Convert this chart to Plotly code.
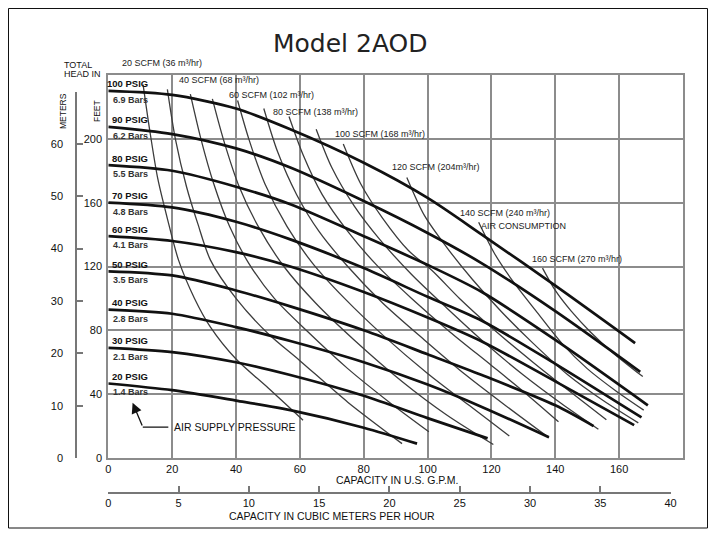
import plotly.graph_objects as go

# ---------------- data ----------------
gpm_ticks = [0, 20, 40, 60, 80, 100, 120, 140, 160]
feet_ticks = [0, 40, 80, 120, 160, 200]
meter_ticks = [0, 10, 20, 30, 40, 50, 60, 70]
meter_ticktext = ["0", "10", "20", "30", "40", "50", "60", ""]
m3h_ticks = [0, 5, 10, 15, 20, 25, 30, 35, 40]

psig_names = ["100 PSIG", "90 PSIG", "80 PSIG", "70 PSIG", "60 PSIG",
              "50 PSIG", "40 PSIG", "30 PSIG", "20 PSIG"]
bar_names = ["6.9 Bars", "6.2 Bars", "5.5 Bars", "4.8 Bars", "4.1 Bars",
             "3.5 Bars", "2.8 Bars", "2.1 Bars", "1.4 Bars"]

# air-supply pressure curves (capacity GPM, total head ft)
p100_gpm = [0, 20, 40, 57, 80, 100, 117, 140, 165]
p100_ft = [230, 227.5, 219, 206, 185, 163, 140, 108, 72]
p90_gpm = [0, 20, 40, 57, 80, 100, 117, 140, 166.6]
p90_ft = [207.5, 203, 194, 182, 161, 141, 122, 92, 54]
p80_gpm = [0, 20, 40, 57, 80, 100, 117, 140, 169]
p80_ft = [183.5, 180, 170, 159, 139, 121, 104, 74, 33]
p70_gpm = [0, 20, 40, 57, 80, 100, 117, 140, 167]
p70_ft = [160, 157, 148, 137, 119, 101, 86, 59, 25.4]
p60_gpm = [0, 20, 40, 57, 80, 100, 117, 140, 164.7]
p60_ft = [139, 136, 129, 120, 104, 88, 73, 48, 20.6]
p50_gpm = [0, 20, 40, 57, 80, 100, 117, 140, 152]
p50_ft = [117, 114.4, 105, 95, 80, 65, 52, 33, 20]
p40_gpm = [0, 20, 40, 57, 80, 100, 117, 138]
p40_ft = [93, 90.4, 82, 73.3, 60, 46, 32, 13]
p30_gpm = [0, 20, 40, 57, 80, 100, 118.8]
p30_ft = [69, 66.4, 60, 52, 39, 25, 12.3]
p20_gpm = [0, 20, 40, 57, 80, 96.7]
p20_ft = [46.7, 42.5, 36, 30, 19, 9]

# air consumption curves (capacity GPM, total head ft)
s20_gpm = [10.9, 13, 15.5, 18.5, 22, 27, 32, 40, 50, 61]
s20_ft = [234, 205, 175, 150, 124, 100, 82, 62, 44, 23.7]
s30_gpm = [18.5, 21, 24.5, 28, 32, 40, 50, 60, 75, 92]
s30_ft = [231, 200, 170, 147, 124, 100, 78, 61, 35, 9]
s40_gpm = [25.7, 29, 33, 38, 44, 52, 62, 75, 88, 100.4]
s40_ft = [228, 200, 172, 145, 122, 100, 80, 56, 35, 16.5]
s50_gpm = [32.6, 36, 41, 47, 55, 65, 77, 92, 106, 120.6]
s50_ft = [225, 200, 170, 145, 120, 97, 74, 48, 27, 8.5]
s60_gpm = [40.5, 44, 49, 56, 64, 74, 86, 100, 113, 125.6]
s60_ft = [224, 200, 172, 145, 122, 100, 77, 53, 33, 13.75]
s70_gpm = [48.7, 53, 59, 66, 75, 86, 99, 112, 125, 138]
s70_ft = [219, 192, 165, 142, 120, 97, 74, 52, 32, 12.7]
s80_gpm = [56.6, 61, 67, 75, 84, 95, 107, 120, 131, 141]
s80_ft = [214, 190, 165, 142, 121, 100, 79, 58, 40, 22.7]
s90_gpm = [65.1, 70, 77, 85, 95, 106, 118, 130, 142, 153.5]
s90_ft = [206, 182, 158, 137, 115, 94, 72, 52, 34, 18]
s100_gpm = [73.6, 79, 86, 94, 101.4, 110, 121, 133, 145, 156]
s100_ft = [196.7, 172, 150, 130, 117.5, 100, 80, 60, 41, 24]
s120_gpm = [93.5, 99, 106, 114, 123, 133, 144, 155, 166]
s120_ft = [175.8, 152, 132, 112, 92, 72, 52, 36, 22]
s140_gpm = [116, 121, 127, 134, 142, 150, 159, 167.7]
s140_ft = [147.7, 128, 110, 92, 72, 56, 42, 30]
s160_gpm = [136, 140, 145, 151, 158, 167.4]
s160_ft = [119, 105, 92, 79, 66, 51]

pressure_curves = [(p100_gpm, p100_ft), (p90_gpm, p90_ft), (p80_gpm, p80_ft),
                   (p70_gpm, p70_ft), (p60_gpm, p60_ft), (p50_gpm, p50_ft),
                   (p40_gpm, p40_ft), (p30_gpm, p30_ft), (p20_gpm, p20_ft)]
air_curves = [(s20_gpm, s20_ft), (s30_gpm, s30_ft), (s40_gpm, s40_ft),
              (s50_gpm, s50_ft), (s60_gpm, s60_ft), (s70_gpm, s70_ft),
              (s80_gpm, s80_ft), (s90_gpm, s90_ft), (s100_gpm, s100_ft),
              (s120_gpm, s120_ft), (s140_gpm, s140_ft), (s160_gpm, s160_ft)]

# labels for air-consumption curves: (text, gpm, ft)
scfm_labels = [
    ("40 SCFM (68 m³/hr)", 21.5, 236.8),
    ("60 SCFM (102 m³/hr)", 37.2, 227.4),
    ("80 SCFM (138 m³/hr)", 51.0, 216.6),
    ("100 SCFM (168 m³/hr)", 70.4, 203.0),
    ("120 SCFM (204m³/hr)", 88.2, 182.5),
    ("140 SCFM (240 m³/hr)", 109.6, 153.7),
    ("AIR CONSUMPTION", 116.0, 145.5),
    ("160 SCFM (270 m³/hr)", 132.0, 124.5),
]

GPM_PER_M3H = 4.40287
FT_PER_M = 3.28084

# ---------------- layout geometry ----------------
W, H = 715, 536
ML, MR, MT, MB = 50, 32, 75, 36
PW, PH = W - ML - MR, H - MT - MB
X0_PX, Y0_PX = 108.3, 458.0      # pixel of GPM 0 / feet 0
X_MAX, Y_MAX = 180.0, 240.0


def fx(px):
    return (px - ML) / PW


def fy(py):
    return (H - MB - py) / PH


x_dom0 = fx(X0_PX)
y_dom0 = fy(Y0_PX)
px_per_gpm = (W - MR - X0_PX) / X_MAX
px_per_ft = (Y0_PX - MT) / Y_MAX
m_top_px = Y0_PX - 70 * FT_PER_M * px_per_ft
x2_end_px = X0_PX + 40 * GPM_PER_M3H * px_per_gpm

FONT = "Liberation Sans, Arial, sans-serif"
GRID = "#8c8c8c"

fig = go.Figure()

for gx, gy in air_curves:
    fig.add_trace(go.Scatter(x=gx, y=gy, mode="lines",
                             line=dict(color="#3c3c3c", width=1.3, shape="spline", smoothing=0.8),
                             hoverinfo="skip", showlegend=False))
for gx, gy in pressure_curves:
    fig.add_trace(go.Scatter(x=gx, y=gy, mode="lines",
                             line=dict(color="#111111", width=2.7, shape="spline", smoothing=0.8),
                             hoverinfo="skip", showlegend=False))

# invisible trace so that the metric (secondary) axes are drawn
fig.add_trace(go.Scatter(x=[0], y=[0], xaxis="x2", yaxis="y2", mode="markers",
                         marker=dict(opacity=0, size=1), hoverinfo="skip",
                         showlegend=False))

ann = []
# pressure labels
for name, bars, (gx, gy) in zip(psig_names, bar_names, pressure_curves):
    ann.append(dict(x=13.0, y=gy[0], xref="x", yref="y", text="<b>%s</b>" % name,
                    showarrow=False, xanchor="right", yanchor="middle", yshift=7,
                    font=dict(family=FONT, size=9.5, color="#111")))
    ann.append(dict(x=0.8, y=gy[0], xref="x", yref="y", text="<b>%s</b>" % bars,
                    showarrow=False, xanchor="left", yanchor="middle", yshift=-9,
                    font=dict(family=FONT, size=9, color="#333")))

for text, gx, gy in scfm_labels:
    ann.append(dict(x=gx, y=gy, xref="x", yref="y", text=text, showarrow=False,
                    xanchor="left", yanchor="middle",
                    font=dict(family=FONT, size=9, color="#222")))

ann.append(dict(x=fx(120), y=fy(63.3), xref="paper", yref="paper",
                text="20 SCFM (36 m³/hr)", showarrow=False, xanchor="left",
                yanchor="middle", font=dict(family=FONT, size=9, color="#222")))

# air supply pressure arrow
ann.append(dict(x=7.6, y=34.6, xref="x", yref="y", ax=10.8, ay=19.4, axref="x", ayref="y",
                text="", showarrow=True, arrowhead=2, arrowsize=1.6, arrowwidth=1.3,
                arrowcolor="#111"))
ann.append(dict(x=20.0, y=19.6, xref="x", yref="y", text="AIR SUPPLY PRESSURE",
                showarrow=False, xanchor="left", yanchor="middle",
                font=dict(family=FONT, size=10.5, color="#111")))

# title and axis texts
ann.append(dict(x=fx(350), y=fy(43), xref="paper", yref="paper", text="Model 2AOD",
                showarrow=False, xanchor="center", yanchor="middle",
                font=dict(family="DejaVu Sans", size=25, color="#222")))
ann.append(dict(x=fx(62), y=fy(65), xref="paper", yref="paper", text="TOTAL",
                showarrow=False, xanchor="left", yanchor="middle",
                font=dict(family=FONT, size=9, color="#111")))
ann.append(dict(x=fx(62), y=fy(74.5), xref="paper", yref="paper", text="HEAD IN",
                showarrow=False, xanchor="left", yanchor="middle",
                font=dict(family=FONT, size=9, color="#111")))
ann.append(dict(x=fx(63), y=fy(111), xref="paper", yref="paper", text="METERS",
                showarrow=False, textangle=-90, xanchor="center", yanchor="middle",
                font=dict(family=FONT, size=8.5, color="#111")))
ann.append(dict(x=fx(97), y=fy(111), xref="paper", yref="paper", text="FEET",
                showarrow=False, textangle=-90, xanchor="center", yanchor="middle",
                font=dict(family=FONT, size=8.5, color="#111")))
ann.append(dict(x=fx(397), y=fy(480), xref="paper", yref="paper",
                text="CAPACITY IN U.S. G.P.M.", showarrow=False, xanchor="center",
                yanchor="middle", font=dict(family=FONT, size=10.5, color="#111")))
ann.append(dict(x=fx(332), y=fy(516), xref="paper", yref="paper",
                text="CAPACITY IN CUBIC METERS PER HOUR", showarrow=False,
                xanchor="center", yanchor="middle",
                font=dict(family=FONT, size=10.5, color="#111")))

shapes = [
    dict(type="line", xref="x", yref="y", x0=10.8, y0=19.4, x1=18.8, y1=19.4,
         line=dict(color="#111", width=1.3)),
    dict(type="rect", xref="paper", yref="paper", x0=fx(8.5), x1=fx(707.5),
         y0=fy(528), y1=fy(8.5), line=dict(color="#111", width=1)),
]

fig.update_layout(
    width=W, height=H, margin=dict(l=ML, r=MR, t=MT, b=MB),
    paper_bgcolor="white", plot_bgcolor="rgba(0,0,0,0)", showlegend=False,
    font=dict(family=FONT, size=11, color="#111"),
    xaxis=dict(domain=[x_dom0, 1], range=[0, X_MAX], tickvals=gpm_ticks,
               showgrid=True, gridcolor=GRID, gridwidth=1.6, zeroline=False,
               showline=True, mirror=True, linecolor=GRID, linewidth=2,
               ticks="", ticklabelstandoff=0, anchor="y"),
    yaxis=dict(domain=[y_dom0, 1], range=[0, Y_MAX], tickvals=feet_ticks,
               showgrid=True, gridcolor=GRID, gridwidth=1.6, zeroline=False,
               showline=True, mirror=True, linecolor=GRID, linewidth=2,
               ticks="", ticklabelstandoff=2, anchor="x"),
    yaxis2=dict(domain=[y_dom0, fy(m_top_px)], range=[0, 70], tickvals=meter_ticks,
                ticktext=meter_ticktext, anchor="free", position=fx(76),
                showgrid=False, zeroline=False, showline=True, linecolor="#777",
                linewidth=1.5, ticks="inside", ticklen=6, tickcolor="#777",
                tickwidth=1.5, ticklabelstandoff=10),
    xaxis2=dict(domain=[x_dom0, fx(x2_end_px)], range=[0, 40], tickvals=m3h_ticks,
                anchor="free", position=fy(493), showgrid=False, zeroline=False,
                showline=True, linecolor="#777", linewidth=1.5, ticks="inside",
                ticklen=6, tickcolor="#777", tickwidth=1.5, ticklabelstandoff=0),
    annotations=ann, shapes=shapes,
)

fig.write_html("out.html", config={"displayModeBar": False},
               post_script="document.body.style.margin='0px';")
